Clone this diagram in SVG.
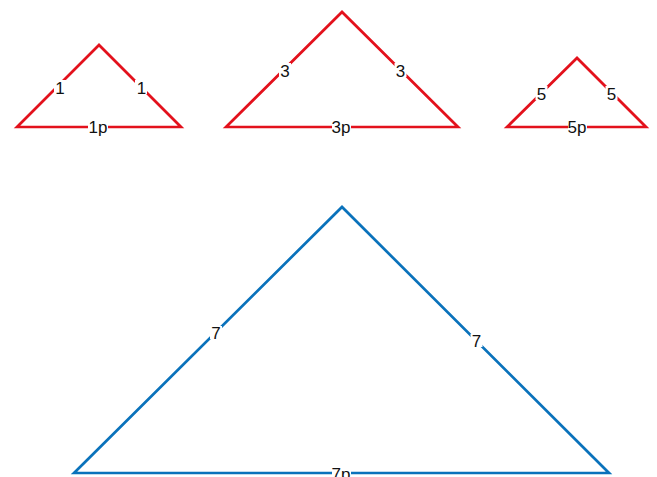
<svg xmlns="http://www.w3.org/2000/svg" width="657" height="477" viewBox="0 0 657 477">
<style>
.red{fill:none;stroke:#e3111c;stroke-width:2.7;stroke-linejoin:miter}
.blue{fill:none;stroke:#0a72bb;stroke-width:2.7;stroke-linejoin:miter}
.gap{fill:#ffffff}
.lbl{font-family:"Liberation Sans",Arial,sans-serif;font-size:17px;fill:#111;text-anchor:middle}
</style>
<rect width="657" height="477" fill="#ffffff"/>
<g id="tri1">
<polygon class="red" points="17,127 99,45 181,127"/>
<rect class="gap" x="54" y="80" width="12" height="14"/>
<rect class="gap" x="135" y="80" width="12" height="14"/>
<rect class="gap" x="88" y="121" width="20" height="12"/>
<text class="lbl" x="60" y="94">1</text>
<text class="lbl" x="141.5" y="94">1</text>
<text class="lbl" x="98" y="133">1p</text>
</g>
<g id="tri2">
<polygon class="red" points="226,127 342,12 458,127"/>
<rect class="gap" x="279" y="63" width="12" height="14"/>
<rect class="gap" x="394.5" y="63" width="12" height="14"/>
<rect class="gap" x="332" y="121" width="19" height="12"/>
<text class="lbl" x="285" y="77">3</text>
<text class="lbl" x="400.5" y="77">3</text>
<text class="lbl" x="341" y="133">3p</text>
</g>
<g id="tri3">
<polygon class="red" points="507,127 577,58 646,127"/>
<rect class="gap" x="535.5" y="86" width="12" height="14"/>
<rect class="gap" x="605.5" y="86" width="12" height="14"/>
<rect class="gap" x="568" y="121" width="19" height="12"/>
<text class="lbl" x="541.5" y="100">5</text>
<text class="lbl" x="611.5" y="100">5</text>
<text class="lbl" x="577" y="133">5p</text>
</g>
<g id="tri4">
<polygon class="blue" points="74,473 342,207 609,473"/>
<rect class="gap" x="210" y="326" width="12" height="13"/>
<rect class="gap" x="470.5" y="334" width="12" height="13"/>
<rect class="gap" x="332" y="467" width="19" height="10"/>
<text class="lbl" x="216" y="338.5">7</text>
<text class="lbl" x="476.5" y="347">7</text>
<text class="lbl" x="341" y="480">7p</text>
</g>
<g id="connectors"></g>
</svg>
